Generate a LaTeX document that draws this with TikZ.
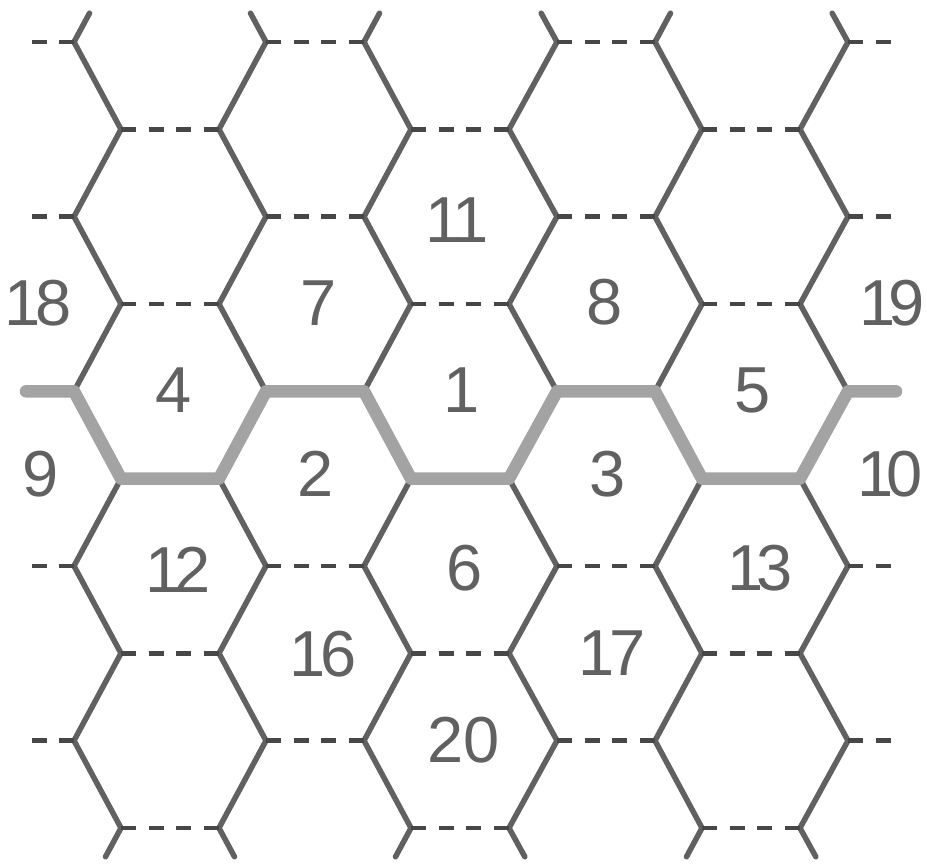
\documentclass[tikz,border=0pt]{standalone}
\usepackage{fontspec}
\setmainfont{Liberation Sans}
\usetikzlibrary{calc}
\begin{document}
\begin{tikzpicture}[x=1pt,y=-1pt,
  slant/.style={draw=black!62, line width=5.5pt, line cap=round},
  heavy/.style={draw=black!36, line width=12.5pt, line cap=round, line join=round},
  hdash/.style={draw=black!72, line width=4.5pt, dash pattern=on 15pt off 12.5pt},
  lbl/.style={text=black!62, font=\fontsize{65}{65}\selectfont, inner sep=0pt}]
\useasboundingbox (0,0) rectangle (927,867);
\def\ex{{74,266,364,557,655,848}}
\def\ox{{121,219,411,509,702,800}}
% vertices
\foreach \i in {0,...,5}{
  \foreach \j in {0,...,9}{
    \pgfmathsetmacro\xx{ifthenelse(mod(\j,2)==0, \ex[\i], \ox[\i])}
    \coordinate (v\i-\j) at (\xx, 42+87.33*\j);
  }
  \pgfmathsetmacro\tx{\ox[\i]}
  \pgfmathsetmacro\bx{\ex[\i]}
  \coordinate (ts\i) at ($(v\i-0)!0.33!(\tx,-45.33)$);
  \coordinate (bs\i) at ($(v\i-9)!0.33!(\bx,915.3)$);
}
% side stub ends
\foreach \j in {0,2,4,6,8}{
  \coordinate (L\j) at (26, 42+87.33*\j);
  \coordinate (R\j) at (896, 42+87.33*\j);
}
% slanted edges (thin)
\foreach \i in {0,...,5}{
  \foreach \j in {0,1,2,3,5,6,7,8}{
    \pgfmathtruncatemacro\jj{\j+1}
    \draw[slant] (v\i-\j) -- (v\i-\jj);
  }
  \draw[slant] (v\i-0) -- (ts\i);
  \draw[slant] (v\i-9) -- (bs\i);
}
% dashed horizontal edges
\foreach \j in {1,3,7,9}{
  \draw[hdash] (v0-\j) -- (v1-\j);
  \draw[hdash] (v2-\j) -- (v3-\j);
  \draw[hdash] (v4-\j) -- (v5-\j);
}
\foreach \j in {0,2,6,8}{
  \draw[hdash] (v1-\j) -- (v2-\j);
  \draw[hdash] (v3-\j) -- (v4-\j);
  \draw[hdash] (v0-\j) -- (L\j);
  \draw[hdash] (v5-\j) -- (R\j);
}
% heavy boundary
\draw[heavy] (L4) -- (v0-4) -- (v0-5) -- (v1-5) -- (v1-4) -- (v2-4) -- (v2-5)
  -- (v3-5) -- (v3-4) -- (v4-4) -- (v4-5) -- (v5-5) -- (v5-4) -- (R4);
% labels
\node[lbl] (n11) at (457,220) {1\kern-9pt1};
\node[lbl] (n7)  at (319,303) {7};
\node[lbl] (n8)  at (605,302) {8};
\node[lbl] (n18) at (38,303)  {1\kern-6pt8};
\node[lbl] (n19) at (892,303) {1\kern-8pt9};
\node[lbl] (n4)  at (174,390) {4};
\node[lbl] (n1)  at (462,390) {1};
\node[lbl] (n5)  at (753,390) {5};
\node[lbl] (n9)  at (41,474)  {9};
\node[lbl] (n2)  at (316,474) {2};
\node[lbl] (n3)  at (608,474) {3};
\node[lbl] (n10) at (890,474) {1\kern-8pt0};
\node[lbl] (n12) at (178,570) {1\kern-7pt2};
\node[lbl] (n6)  at (465,568) {6};
\node[lbl] (n13) at (760,568) {1\kern-8pt3};
\node[lbl] (n16) at (323,654) {1\kern-6pt6};
\node[lbl] (n17) at (612,653) {1\kern-6pt7};
\node[lbl] (n20) at (464,740) {20};
\end{tikzpicture}
\end{document}
